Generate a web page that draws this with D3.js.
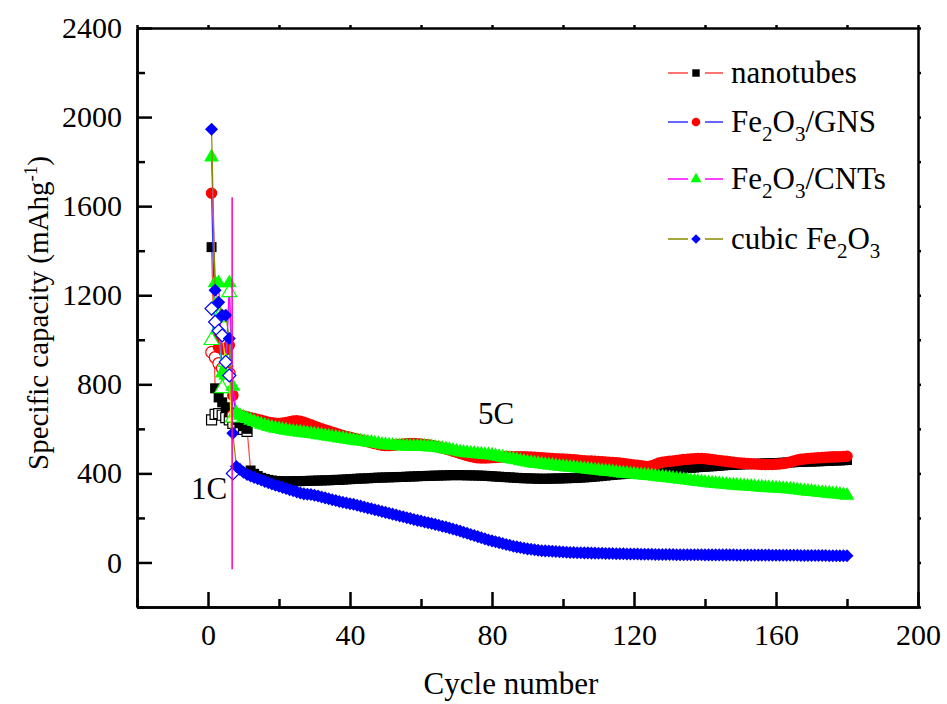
<!DOCTYPE html>
<meta charset="utf-8">
<style>
body { margin: 0; background: #fff; }
svg text { font-family: "Liberation Serif", "Times New Roman", "DejaVu Serif", serif; fill: #000; }
.axis path, .axis line { stroke: #000; stroke-width: 2.5px; }
.axis text { font-size: 30px; font-family: "Liberation Serif", "Times New Roman", serif; }
</style>
<svg width="947" height="704" font-family="Liberation Serif"></svg>
<script src="https://d3js.org/d3.v7.min.js"></script>
<script>

// cycle numbers 1..180
var cycles = d3.range(1, 181);

// discharge capacity (mAh/g), one value per cycle
var nanotubes = [
  1416, 782, 741, 719, 697, 674, 650, 640, 625, 612,
  600, 413, 398, 388, 380, 375, 371, 368, 366, 365,
  364, 364, 364, 365, 365, 365, 366, 366, 367, 367,
  368, 368, 369, 369, 370, 371, 371, 372, 373, 374,
  375, 376, 377, 377, 378, 379, 380, 381, 381, 382,
  382, 383, 383, 384, 384, 385, 386, 386, 387, 388,
  388, 389, 389, 390, 390, 391, 391, 392, 392, 392,
  392, 392, 391, 391, 391, 390, 390, 389, 388, 387,
  386, 385, 384, 383, 382, 381, 380, 379, 378, 378,
  377, 377, 376, 376, 376, 376, 377, 377, 377, 378,
  378, 379, 379, 380, 381, 382, 383, 384, 386, 387,
  389, 390, 392, 393, 395, 396, 397, 398, 399, 400,
  402, 403, 405, 407, 408, 410, 412, 413, 415, 416,
  418, 419, 421, 422, 424, 425, 426, 428, 429, 430,
  431, 432, 433, 434, 436, 437, 438, 438, 439, 440,
  441, 441, 442, 443, 443, 444, 445, 445, 446, 446,
  447, 448, 449, 449, 450, 451, 451, 452, 453, 453,
  454, 454, 455, 456, 456, 457, 458, 458, 459, 460
];

var gns = [
  1658, 1000, 965, 960, 955, 975, 750, 668, 662, 658,
  654, 650, 646, 642, 638, 634, 630, 627, 625, 624,
  626, 628, 632, 635, 636, 634, 630, 624, 618, 612,
  606, 600, 595, 590, 585, 580, 575, 570, 566, 562,
  558, 554, 550, 546, 542, 538, 534, 530, 527, 525,
  525, 526, 528, 530, 532, 533, 534, 534, 533, 532,
  530, 528, 525, 522, 518, 514, 510, 505, 500, 495,
  490, 485, 480, 476, 473, 470, 469, 469, 470, 471,
  472, 473, 474, 475, 475, 475, 475, 474, 474, 473,
  473, 472, 471, 470, 469, 468, 467, 466, 465, 464,
  463, 462, 461, 460, 458, 457, 456, 455, 454, 453,
  452, 451, 450, 449, 448, 446, 444, 442, 440, 438,
  436, 434, 432, 431, 434, 440, 446, 450, 452, 454,
  456, 458, 460, 462, 463, 465, 466, 467, 467, 466,
  464, 462, 460, 458, 456, 454, 452, 450, 448, 446,
  445, 444, 443, 442, 441, 440, 440, 440, 440, 441,
  442, 444, 447, 451, 456, 460, 463, 465, 467, 468,
  469, 470, 471, 472, 473, 474, 474, 475, 476, 477
];

var cnts = [
  1820, 1255, 1255, 850, 840, 1255, 790, 670, 660, 652,
  645, 638, 632, 626, 620, 615, 610, 606, 602, 599,
  596, 593, 590, 588, 586, 584, 582, 580, 578, 576,
  573, 571, 568, 566, 563, 561, 558, 556, 553, 551,
  548, 546, 544, 542, 540, 538, 535, 533, 530, 528,
  526, 525, 524, 523, 522, 522, 521, 521, 521, 521,
  520, 519, 518, 516, 514, 512, 509, 506, 503, 499,
  496, 494, 492, 490, 489, 487, 486, 484, 483, 481,
  478, 475, 472, 469, 466, 463, 460, 456, 453, 450,
  447, 445, 443, 441, 439, 437, 435, 433, 431, 430,
  428, 426, 425, 423, 422, 420, 418, 416, 414, 413,
  411, 409, 408, 406, 404, 402, 400, 399, 397, 396,
  394, 393, 391, 390, 388, 386, 384, 383, 381, 379,
  377, 375, 373, 371, 369, 367, 365, 363, 361, 359,
  357, 356, 354, 353, 351, 350, 348, 347, 346, 344,
  343, 342, 341, 340, 338, 337, 336, 335, 334, 333,
  332, 331, 330, 329, 327, 325, 323, 321, 319, 318,
  316, 314, 313, 311, 310, 308, 307, 305, 303, 301
];

var cubic = [
  1945, 1222, 1168, 1110, 1110, 1006, 580, 431, 418, 405,
  395, 388, 382, 376, 370, 364, 358, 352, 347, 342,
  337, 332, 327, 322, 317, 312, 308, 306, 305, 302,
  298, 294, 290, 286, 282, 278, 274, 270, 267, 264,
  261, 257, 253, 249, 245, 241, 237, 233, 229, 225,
  221, 217, 213, 209, 205, 201, 197, 193, 189, 186,
  182, 178, 175, 171, 167, 163, 159, 155, 150, 146,
  141, 136, 131, 126, 121, 116, 111, 106, 101, 97,
  93, 89, 85, 81, 77, 73, 70, 67, 64, 61,
  59, 57, 55, 53, 52, 51, 50, 49, 48, 47,
  46, 45, 45, 44, 44, 43, 43, 42, 42, 41,
  41, 40, 40, 40, 39, 39, 39, 38, 38, 38,
  38, 37, 37, 37, 37, 36, 36, 36, 36, 36,
  36, 35, 35, 35, 35, 35, 35, 35, 35, 34,
  34, 34, 34, 34, 34, 34, 34, 34, 33, 33,
  33, 33, 33, 33, 33, 33, 33, 33, 32, 32,
  32, 32, 32, 32, 32, 32, 31, 31, 31, 31,
  31, 31, 31, 31, 30, 30, 30, 30, 30, 30
];

// charge capacity of the first cycles (open symbols)
var nanotubesCharge = [640, 665, 668, 661, 650, 640, 625, 618, 607, 598, 589];
var gnsCharge = [944, 921, 894, 872, 860, 850, 660];
var cntsCharge = [998, 1150, 1100, 782, 900, 1213, 650];
var cubicCharge = [1140, 1080, 1040, 1020, 900, 840, 400];

// stray vertical line at the rate change
var spikeCycles = [6.8, 6.8];
var spikeValues = [1640, -30];

var xMajor = [0, 40, 80, 120, 160, 200];
var xMinor = [-20, 20, 60, 100, 140, 180];
var yMajor = [0, 400, 800, 1200, 1600, 2000, 2400];
var yMinor = [-200, 200, 600, 1000, 1400, 1800, 2200];

var seriesNames = ["nanotubes", "Fe2O3/GNS", "Fe2O3/CNTs", "cubic Fe2O3"];

var serif = "'Liberation Serif', 'Times New Roman', serif";

var svg = d3.select("svg"),
    width = +svg.attr("width"),
    height = +svg.attr("height");

var x = d3.scaleLinear().domain([-20, 200]).range([137, 918]);
var y = d3.scaleLinear().domain([-200, 2400]).range([607, 28]);

var series = [
  {name: seriesNames[0], dis: nanotubes, chg: nanotubesCharge, color: "#000", line: "#f44", chgLine: "#c00", shape: d3.symbolSquare, size: 100, rot: 0},
  {name: seriesNames[1], dis: gns, chg: gnsCharge, color: "#f00", line: "#33f", chgLine: "#f55", shape: d3.symbolCircle, size: 105, rot: 0},
  {name: seriesNames[2], dis: cnts, chg: cntsCharge, color: "#0f0", line: "#f0f", chgLine: "#0cc", shape: d3.symbolTriangle, size: 95, rot: 0},
  {name: seriesNames[3], dis: cubic, chg: cubicCharge, color: "#00f", line: "#880", chgLine: "#ee0", shape: d3.symbolSquare, size: 85, rot: 45}
];

var line = d3.line()
    .x(function(d) { return x(d[0]); })
    .y(function(d) { return y(d[1]); });

var plot = svg.append("g");

series.forEach(function(s) {
  var dis = s.dis.map(function(v, i) { return [cycles[i], v]; });
  var chg = s.chg.map(function(v, i) { return [cycles[i], v]; });
  var g = plot.append("g");

  g.append("path").datum(chg)
      .attr("d", line).attr("fill", "none")
      .attr("stroke", s.chgLine).attr("stroke-width", 1.2);
  g.append("path").datum(dis)
      .attr("d", line).attr("fill", "none")
      .attr("stroke", s.line).attr("stroke-width", 1.2);

  var sym = d3.symbol().type(s.shape).size(s.size);
  g.selectAll(".chg").data(chg)
    .enter().append("path")
      .attr("class", "chg")
      .attr("d", sym)
      .attr("transform", function(d) { return "translate(" + x(d[0]) + "," + y(d[1]) + ") rotate(" + s.rot + ")"; })
      .attr("fill", "#fff")
      .attr("stroke", s.color).attr("stroke-width", 1.2);
  g.selectAll(".dis").data(dis)
    .enter().append("path")
      .attr("class", "dis")
      .attr("d", sym)
      .attr("transform", function(d) { return "translate(" + x(d[0]) + "," + y(d[1]) + ") rotate(" + s.rot + ")"; })
      .attr("fill", s.color);
});

plot.append("path")
    .datum(spikeCycles.map(function(c, i) { return [c, spikeValues[i]]; }))
    .attr("d", line).attr("fill", "none")
    .attr("stroke", "#f0a").attr("stroke-width", 1.5);

// axes
var fmt = d3.format("d");
svg.append("g").attr("class", "axis")
    .attr("transform", "translate(0,607)")
    .call(d3.axisBottom(x).tickValues(xMajor).tickFormat(fmt).tickSize(-15).tickSizeOuter(0).tickPadding(17));
svg.append("g").attr("class", "axis")
    .attr("transform", "translate(0,607)")
    .call(d3.axisBottom(x).tickValues(xMinor).tickSize(-8).tickSizeOuter(0).tickFormat(""));
svg.append("g").attr("class", "axis")
    .attr("transform", "translate(137,0)")
    .call(d3.axisLeft(y).tickValues(yMajor).tickFormat(fmt).tickSize(-15).tickSizeOuter(0).tickPadding(15));
svg.append("g").attr("class", "axis")
    .attr("transform", "translate(137,0)")
    .call(d3.axisLeft(y).tickValues(yMinor).tickSize(-8).tickSizeOuter(0).tickFormat(""));
svg.append("g").attr("class", "axis")
    .attr("transform", "translate(918,0)")
    .call(d3.axisRight(y).tickValues(yMajor.concat(yMinor)).tickSize(3).tickSizeOuter(0).tickFormat(""));
svg.append("g").attr("class", "axis")
    .attr("transform", "translate(0,28)")
    .call(d3.axisTop(x).tickValues(xMajor.concat(xMinor)).tickSize(3).tickSizeOuter(0).tickFormat(""));

svg.selectAll(".axis").attr("font-family", serif).attr("font-size", 30);
svg.selectAll(".axis text").attr("fill", "#000");

// axis titles
svg.append("text")
    .attr("x", 511).attr("y", 694)
    .attr("text-anchor", "middle")
    .attr("font-family", serif).attr("font-size", 31)
    .text("Cycle number");

var yt = svg.append("text")
    .attr("transform", "translate(48,313) rotate(-90)")
    .attr("text-anchor", "middle")
    .attr("font-family", serif).attr("font-size", 29);
yt.append("tspan").text("Specific capacity (mAhg");
yt.append("tspan").attr("dy", -11).attr("font-size", 19).text("-1");
yt.append("tspan").attr("dy", 11).text(")");

svg.append("text").attr("x", 209).attr("y", 499).attr("font-family", serif)
    .attr("text-anchor", "middle").attr("font-size", 31).text("1C");
svg.append("text").attr("x", 496).attr("y", 424).attr("font-family", serif)
    .attr("text-anchor", "middle").attr("font-size", 31).text("5C");

// legend
var legY = [73, 122, 179, 239];
var leg = svg.append("g");
series.forEach(function(s, i) {
  var gy = legY[i];
  leg.append("line").attr("x1", 668).attr("x2", 688).attr("y1", gy).attr("y2", gy)
      .attr("stroke", s.line).attr("stroke-width", 1.5);
  leg.append("line").attr("x1", 705).attr("x2", 723).attr("y1", gy).attr("y2", gy)
      .attr("stroke", s.line).attr("stroke-width", 1.5);
  leg.append("path")
      .attr("d", d3.symbol().type(s.shape).size(s.size * 0.55))
      .attr("transform", "translate(696," + gy + ") rotate(" + s.rot + ")")
      .attr("fill", s.color);
  var t = leg.append("text").attr("x", 731).attr("y", gy + 10)
      .attr("font-family", serif).attr("font-size", 31);
  if (i === 0) {
    t.text("nanotubes");
  } else {
    var pre = i === 3 ? "cubic Fe" : "Fe";
    t.append("tspan").text(pre);
    t.append("tspan").attr("dy", 9).attr("font-size", 21).text("2");
    t.append("tspan").attr("dy", -9).text("O");
    t.append("tspan").attr("dy", 9).attr("font-size", 21).text("3");
    if (i === 1) t.append("tspan").attr("dy", -9).text("/GNS");
    if (i === 2) t.append("tspan").attr("dy", -9).text("/CNTs");
  }
});

</script>
